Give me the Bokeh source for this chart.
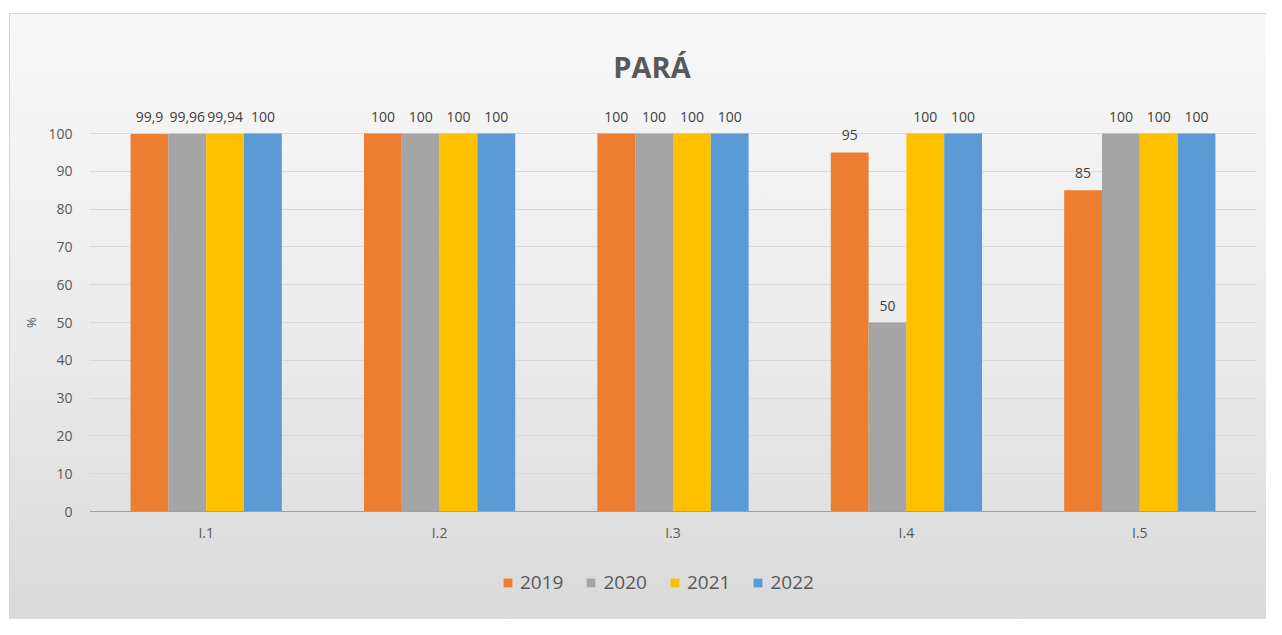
from bokeh.plotting import figure
from bokeh.models import ColumnDataSource, LabelSet, Label, Legend, LegendItem, FixedTicker
from bokeh.transform import dodge
from bokeh.core.properties import value
from bokeh.embed import file_html
from bokeh.resources import INLINE

categories = ["I.1", "I.2", "I.3", "I.4", "I.5"]
years = ["2019", "2020", "2021", "2022"]
v2019 = [99.9, 100, 100, 95, 85]
v2020 = [99.96, 100, 100, 50, 100]
v2021 = [99.94, 100, 100, 100, 100]
v2022 = [100, 100, 100, 100, 100]
colors = ["#ED7D31", "#A5A5A5", "#FFC000", "#5B9BD5"]
yticks = [0, 10, 20, 30, 40, 50, 60, 70, 80, 90, 100]

series = [v2019, v2020, v2021, v2022]

def fmt(v):
    if float(v).is_integer():
        return str(int(v))
    return ("%g" % v).replace(".", ",")

FONT = "Open Sans"

# pixel layout: value 0 at y=511, value 100 at y=133, frame from y=25 to y=619
PX = (511 - 133) / 100.0
y_lo = -(619 - 511) / PX
y_hi = 100 + (133 - 25) / PX

p = figure(x_range=categories, y_range=(y_lo, y_hi), width=1266, height=619,
           output_backend="svg", toolbar_location=None,
           min_border_left=89, min_border_right=10, min_border_top=25, min_border_bottom=0)
p.border_fill_color = None
p.background_fill_color = None
p.outline_line_color = None
p.styles = {
    "background-color": "#ffffff",
    "background-image": ("linear-gradient(#d6d6d6, #d6d6d6), linear-gradient(#d6d6d6, #d6d6d6), "
                         "linear-gradient(to bottom, #f8f8f8 0%, #ececec 50%, #d9d9d9 100%)"),
    "background-position": "9px 13px, 9px 13px, 10px 14px",
    "background-size": "1px 100%, 100% 1px, 100% 100%",
    "background-repeat": "no-repeat",
}

bar_w = 0.162
offsets = [-0.243, -0.081, 0.081, 0.243]
items = []
for yr, vals, col, off in zip(years, series, colors, offsets):
    src = ColumnDataSource(dict(cat=categories, val=vals, lab=[fmt(v) for v in vals]))
    r = p.vbar(x=dodge("cat", off, range=p.x_range), top="val", bottom=0, width=bar_w,
               source=src, fill_color=col, line_color=None)
    items.append(LegendItem(label=yr, renderers=[r]))
    ls = LabelSet(x=dodge("cat", off, range=p.x_range), y="val", text="lab", source=src,
                  text_align="center", text_baseline="middle", y_offset=17,
                  text_font=value(FONT), text_font_size="14px", text_color="#404040")
    p.add_layout(ls)

# title (inside the extended frame, above the 100 line)
title = Label(x=2.41, y=100 + (133 - 66) / PX, text="PARÁ", text_align="center",
              text_baseline="middle", text_font=FONT, text_font_size="29px",
              text_font_style="bold", text_color="#595959")
p.add_layout(title)

# axes
p.yaxis.ticker = FixedTicker(ticks=yticks)
p.ygrid.ticker = FixedTicker(ticks=yticks)
p.ygrid.grid_line_color = "#d9d9d9"
p.xgrid.grid_line_color = None
p.yaxis.axis_line_color = None
p.yaxis.major_tick_line_color = None
p.yaxis.minor_tick_line_color = None
p.yaxis.major_tick_out = 0
p.yaxis.major_tick_in = 0
p.yaxis.major_label_standoff = 17
p.yaxis.major_label_text_font = FONT
p.yaxis.major_label_text_font_size = "14px"
p.yaxis.major_label_text_color = "#595959"
p.yaxis.axis_label = "%"
p.yaxis.axis_label_text_font = FONT
p.yaxis.axis_label_text_font_style = "normal"
p.yaxis.axis_label_text_font_size = "13px"
p.yaxis.axis_label_text_color = "#595959"
p.yaxis.axis_label_standoff = 5

p.xaxis.fixed_location = 0
p.xaxis.axis_line_color = "#a0a0a0"
p.xaxis.major_tick_line_color = None
p.xaxis.minor_tick_line_color = None
p.xaxis.major_tick_out = 0
p.xaxis.major_tick_in = 0
p.xaxis.major_label_standoff = 11
p.xaxis.major_label_text_font = FONT
p.xaxis.major_label_text_font_size = "14px"
p.xaxis.major_label_text_color = "#595959"

legend = Legend(items=items, orientation="horizontal", location=(413, 24),
                glyph_width=11, glyph_height=11, label_standoff=7, spacing=22,
                label_height=20, padding=0, margin=0, border_line_color=None,
                background_fill_alpha=0,
                label_text_font=FONT, label_text_font_size="19px", label_text_color="#595959")
p.add_layout(legend, "center")

open("out.html", "w").write(file_html(p, INLINE))
